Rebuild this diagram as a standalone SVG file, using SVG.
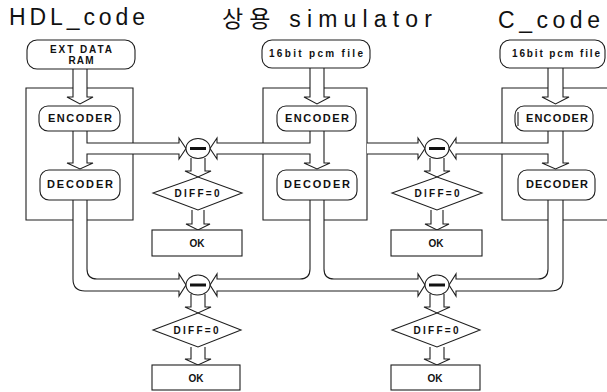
<svg xmlns="http://www.w3.org/2000/svg" width="607" height="392" viewBox="0 0 607 392">
<style>
.ln{fill:none;stroke:#1e1e1e;stroke-width:1.1}
.pipe{fill:#fff;stroke:#1e1e1e;stroke-width:1.1;stroke-linejoin:miter}
.box{fill:#fff;stroke:#1e1e1e;stroke-width:1.1}
.t{font-family:"Liberation Sans",Arial,sans-serif;font-weight:bold;fill:#111;text-anchor:middle}
.title{font-family:"Liberation Sans",Arial,"Noto Sans CJK KR",sans-serif;font-size:23px;fill:#111}
.minus{stroke:#111;stroke-width:3}
</style>
<rect width="607" height="392" fill="#fff"/>
<g id="titles">
<text class="title" x="9" y="25" textLength="136" lengthAdjust="spacing">HDL_code</text>
<text class="title" x="222" y="27" textLength="210" lengthAdjust="spacing" style="font-family:'Liberation Sans','Noto Sans CJK KR',sans-serif">상용 simulator</text>
<text class="title" x="498" y="28" textLength="102" lengthAdjust="spacing">C_code</text>
</g>
<g id="containers">
<path class="ln" d="M73,88 H26 V220 H73 M87,220 H133 V88 H87"/>
<path class="ln" d="M310,88 H263 V220 H310 M324,220 H367 V88 H324"/>
<path class="ln" d="M548,88 H502 V220 H548 M563,220 H607 M563,88 H607"/>
</g>
<g id="connectors">
<path class="pipe" d="M73,69 V97 H67 L80,104 L93,97 H87 V69"/>
<path class="pipe" d="M310,68 V97 H304 L317,104 L330,97 H324 V68"/>
<path class="pipe" d="M548,68 V97 H542 L555.5,104 L569,97 H563 V68"/>
<path class="pipe" d="M73,131 V163 H67 L80,169 L93,163 H87 V154 H179 V159 L186,148.5 L179,138 V143 H87 V131"/>
<path class="pipe" d="M324,131 V163 H330 L317,169 L304,163 H310 V154 H217 V159 L210,148.5 L217,138 V143 H310 V131"/>
<path class="pipe" d="M367,143 H418 V138 L425,148.5 L418,159 V154 H367"/>
<path class="pipe" d="M563,131 V163 H569 L555.5,169 L542,163 H548 V154 H456 V159 L449,148.5 L456,138 V143 H548 V131"/>
<path class="pipe" d="M191,158 V171 H185 L198,177 L211,171 H205 V158"/>
<path class="pipe" d="M192,210 V224 H186 L198,230 L210,224 H204 V210"/>
<path class="pipe" d="M430,158 V171 H424 L437,177 L450,171 H444 V158"/>
<path class="pipe" d="M431,210 V224 H425 L437,230 L449,224 H443 V210"/>
<path class="pipe" d="M87,200 V269 Q87,279 97,279 H179 V274 L186,285 L179,296 V291 H85 Q73,291 73,279 V200"/>
<path class="pipe" d="M310,200 V269 Q310,279 300,279 H217 V274 L210,285 L217,296 V291 H418 V296 L425,285 L418,274 V279 H334 Q324,279 324,269 V200"/>
<path class="pipe" d="M548,200 V269 Q548,279 538,279 H456 V274 L449,285 L456,296 V291 H551 Q563,291 563,279 V200"/>
<path class="pipe" d="M191,294 V307 H185 L198,313 L211,307 H205 V294"/>
<path class="pipe" d="M191,347 V359 H185 L198,365 L211,359 H205 V347"/>
<path class="pipe" d="M430,294 V307 H424 L437,313 L450,307 H444 V294"/>
<path class="pipe" d="M430,347 V359 H424 L437,365 L450,359 H444 V347"/>
</g>
<g id="ext_ram">
<rect class="box" x="27" y="40" width="108" height="29" rx="10"/>
<text class="t" x="81" y="53" font-size="10" textLength="62" lengthAdjust="spacing">EXT DATA</text>
<text class="t" x="81" y="64" font-size="10" textLength="25" lengthAdjust="spacing">RAM</text>
</g>
<g id="pcm_sim">
<rect class="box" x="262" y="40" width="108" height="28" rx="10"/>
<text class="t" x="316" y="57" font-size="10" textLength="94" lengthAdjust="spacing">16bit pcm file</text>
</g>
<g id="pcm_c">
<rect class="box" x="500" y="40" width="105" height="28" rx="10"/>
<text class="t" x="556" y="57" font-size="10" textLength="88" lengthAdjust="spacing">16bit pcm file</text>
</g>
<g id="enc_hdl">
<rect class="box" x="39" y="106" width="81" height="25" rx="9"/>
<text class="t" x="80" y="122" font-size="11" textLength="64" lengthAdjust="spacing">ENCODER</text>
</g>
<g id="enc_sim">
<rect class="box" x="277" y="106" width="79" height="25" rx="9"/>
<text class="t" x="317" y="122" font-size="11" textLength="64" lengthAdjust="spacing">ENCODER</text>
</g>
<g id="enc_c">
<rect class="box" x="515" y="106" width="78" height="25" rx="9"/>
<line class="ln" x1="518" y1="112" x2="518" y2="126"/>
<text class="t" x="557" y="122" font-size="11" textLength="62" lengthAdjust="spacing">ENCODER</text>
</g>
<g id="dec_hdl">
<rect class="box" x="40" y="170" width="80" height="30" rx="9"/>
<text class="t" x="80" y="188" font-size="11" textLength="66" lengthAdjust="spacing">DECODER</text>
</g>
<g id="dec_sim">
<rect class="box" x="277" y="170" width="80" height="30" rx="9"/>
<text class="t" x="317" y="188" font-size="11" textLength="66" lengthAdjust="spacing">DECODER</text>
</g>
<g id="dec_c">
<rect class="box" x="518" y="170" width="77" height="30" rx="9"/>
<text class="t" x="557" y="188" font-size="11" textLength="62" lengthAdjust="spacing">DECODER</text>
</g>
<g id="sub1">
<ellipse class="box" cx="198" cy="148.5" rx="12" ry="10"/>
<line class="minus" x1="190" y1="148.5" x2="206" y2="148.5"/>
</g>
<g id="sub2">
<ellipse class="box" cx="437" cy="148.5" rx="12" ry="10"/>
<line class="minus" x1="429" y1="148.5" x2="445" y2="148.5"/>
</g>
<g id="sub3">
<ellipse class="box" cx="198" cy="285" rx="12" ry="10"/>
<line class="minus" x1="190" y1="285" x2="206" y2="285"/>
</g>
<g id="sub4">
<ellipse class="box" cx="437" cy="285" rx="12" ry="10"/>
<line class="minus" x1="429" y1="285" x2="445" y2="285"/>
</g>
<g id="diff1">
<polygon class="box" points="153,193 198,177 242,193 198,210"/>
<text class="t" x="197" y="197" font-size="10" textLength="45" lengthAdjust="spacing">DIFF=0</text>
</g>
<g id="diff2">
<polygon class="box" points="392,193 437,177 482,193 437,210"/>
<text class="t" x="437" y="197" font-size="10" textLength="45" lengthAdjust="spacing">DIFF=0</text>
</g>
<g id="diff3">
<polygon class="box" points="153,330 198,313 241,330 198,347"/>
<text class="t" x="196" y="334" font-size="10" textLength="45" lengthAdjust="spacing">DIFF=0</text>
</g>
<g id="diff4">
<polygon class="box" points="392,330 437,313 480,330 437,347"/>
<text class="t" x="436" y="334" font-size="10" textLength="45" lengthAdjust="spacing">DIFF=0</text>
</g>
<g id="ok1">
<rect class="box" x="152" y="230" width="90" height="26"/>
<text class="t" x="197" y="247" font-size="10">OK</text>
</g>
<g id="ok2">
<rect class="box" x="391" y="230" width="91" height="26"/>
<text class="t" x="436" y="247" font-size="10">OK</text>
</g>
<g id="ok3">
<rect class="box" x="152" y="365" width="88" height="25"/>
<text class="t" x="196" y="382" font-size="10">OK</text>
</g>
<g id="ok4">
<rect class="box" x="391" y="365" width="89" height="25"/>
<text class="t" x="435" y="382" font-size="10">OK</text>
</g>
</svg>
